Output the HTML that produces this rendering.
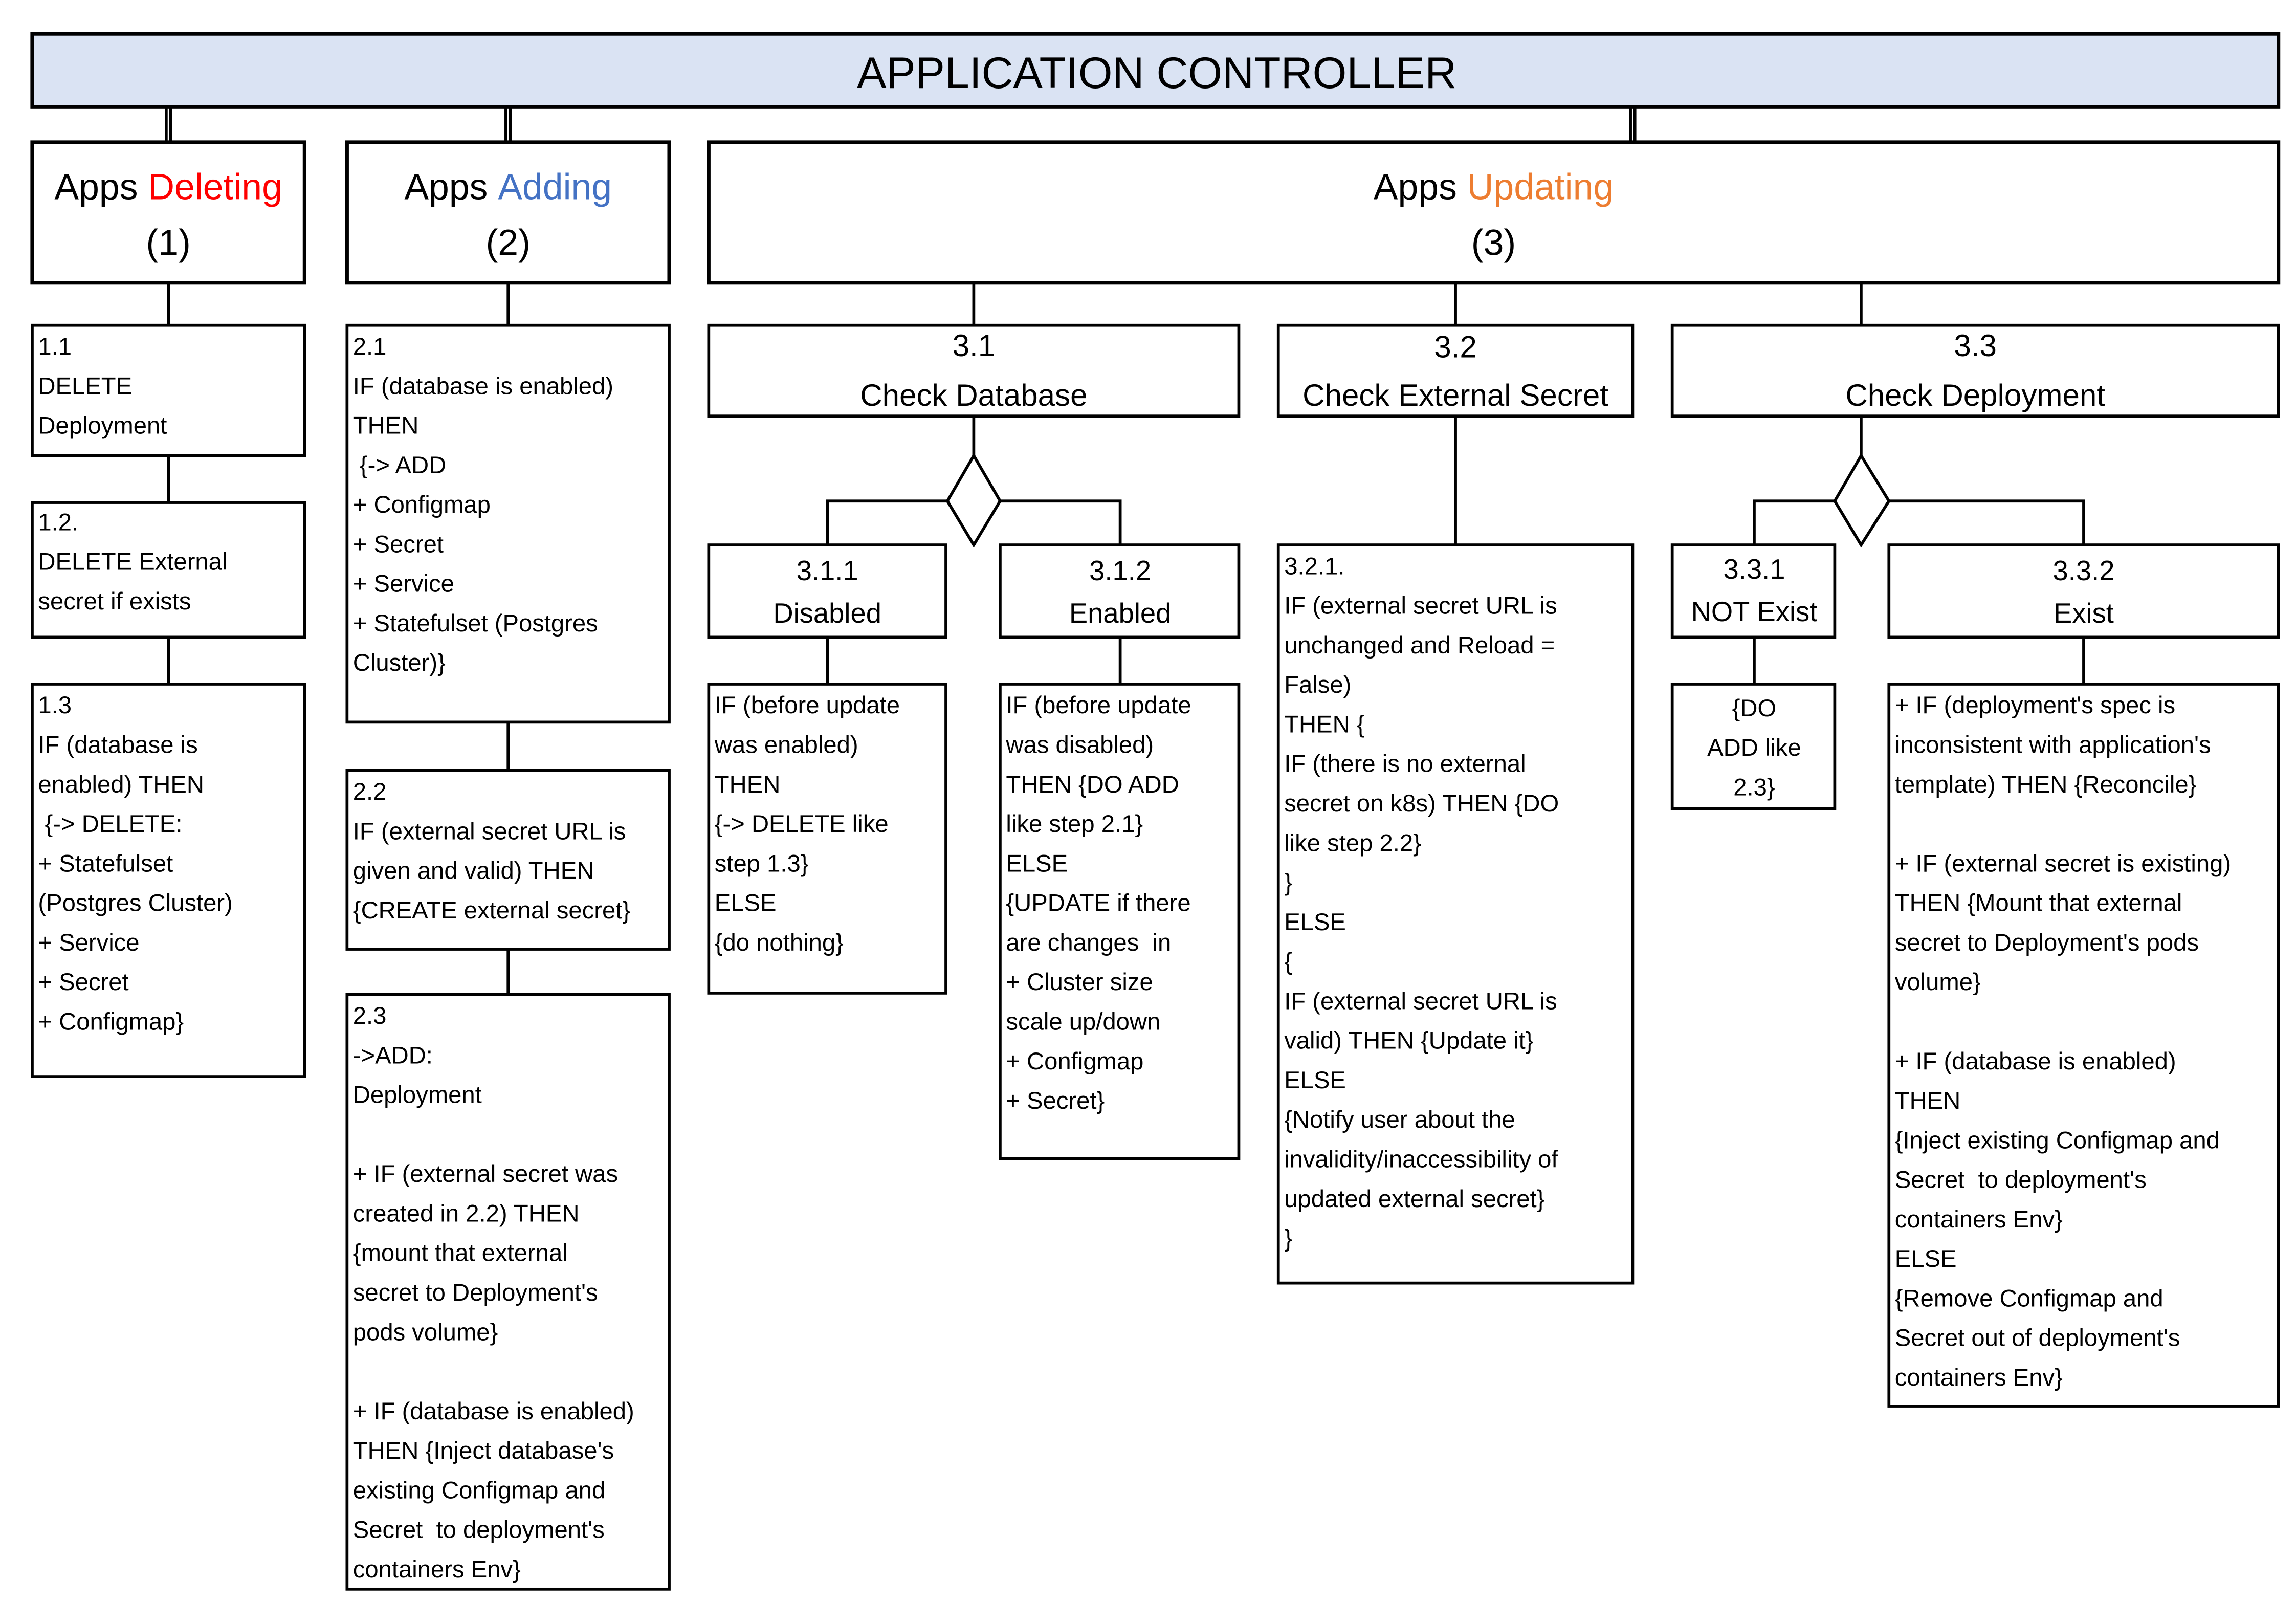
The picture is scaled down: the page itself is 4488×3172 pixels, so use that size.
<!DOCTYPE html>
<html><head><meta charset="utf-8"><style>
html,body{margin:0;padding:0;background:#fff;}
svg{display:block;}
text{font-family:"Liberation Sans",sans-serif;fill:#000;white-space:pre;}
.b{font-size:16.5px;}
</style></head><body>
<svg width="4488" height="3172" viewBox="0 0 1568 1108" xmlns="http://www.w3.org/2000/svg">
<g fill="none" stroke="#000" stroke-width="2">
<rect x="22" y="23" width="1534" height="50" fill="#dae3f3" stroke-width="2.5"/>
<line x1="113.5" y1="73" x2="113.5" y2="97"/><line x1="116.5" y1="73" x2="116.5" y2="97"/>
<line x1="345.5" y1="73" x2="345.5" y2="97"/><line x1="348.5" y1="73" x2="348.5" y2="97"/>
<line x1="1113.5" y1="73" x2="1113.5" y2="97"/><line x1="1116.5" y1="73" x2="1116.5" y2="97"/>
<rect x="22" y="97" width="186" height="96" stroke-width="2.5"/>
<rect x="237" y="97" width="220" height="96" stroke-width="2.5"/>
<rect x="484" y="97" width="1072" height="96" stroke-width="2.5"/>
<line x1="115" y1="193" x2="115" y2="222"/>
<rect x="22" y="222" width="186" height="89"/>
<line x1="115" y1="311" x2="115" y2="343"/>
<rect x="22" y="343" width="186" height="92"/>
<line x1="115" y1="435" x2="115" y2="467"/>
<rect x="22" y="467" width="186" height="268"/>
<line x1="347" y1="193" x2="347" y2="222"/>
<rect x="237" y="222" width="220" height="271"/>
<line x1="347" y1="493" x2="347" y2="526"/>
<rect x="237" y="526" width="220" height="122"/>
<line x1="347" y1="648" x2="347" y2="679"/>
<rect x="237" y="679" width="220" height="406"/>
<line x1="665" y1="193" x2="665" y2="222"/>
<line x1="994" y1="193" x2="994" y2="222"/>
<line x1="1271" y1="193" x2="1271" y2="222"/>
<rect x="484" y="222" width="362" height="62"/>
<rect x="873" y="222" width="242" height="62"/>
<rect x="1142" y="222" width="414" height="62"/>
<line x1="665" y1="284" x2="665" y2="311"/>
<polygon points="665,311 683,342 665,372 647,342"/>
<polyline points="647,342 565,342 565,372"/>
<polyline points="683,342 765,342 765,372"/>
<rect x="484" y="372" width="162" height="63"/>
<rect x="683" y="372" width="163" height="63"/>
<line x1="565" y1="435" x2="565" y2="467"/>
<line x1="765" y1="435" x2="765" y2="467"/>
<rect x="484" y="467" width="162" height="211"/>
<rect x="683" y="467" width="163" height="324"/>
<line x1="994" y1="284" x2="994" y2="372"/>
<rect x="873" y="372" width="242" height="504"/>
<line x1="1271" y1="284" x2="1271" y2="311"/>
<polygon points="1271,311 1290,342 1271,372 1253,342"/>
<polyline points="1253,342 1198,342 1198,372"/>
<polyline points="1290,342 1423,342 1423,372"/>
<rect x="1142" y="372" width="111" height="63"/>
<rect x="1290" y="372" width="266" height="63"/>
<line x1="1198" y1="435" x2="1198" y2="467"/>
<line x1="1423" y1="435" x2="1423" y2="467"/>
<rect x="1142" y="467" width="111" height="85"/>
<rect x="1290" y="467" width="266" height="493"/>
</g>

<text x="790" y="60" font-size="30" text-anchor="middle">APPLICATION CONTROLLER</text>
<text x="115" y="136" font-size="25" text-anchor="middle">Apps <tspan style="fill:#ff0000">Deleting</tspan></text>
<text x="115" y="174" font-size="25" text-anchor="middle">(1)</text>
<text x="347" y="136" font-size="25" text-anchor="middle">Apps <tspan style="fill:#4472c4">Adding</tspan></text>
<text x="347" y="174" font-size="25" text-anchor="middle">(2)</text>
<text x="1020" y="136" font-size="25" text-anchor="middle">Apps <tspan style="fill:#ed7d31">Updating</tspan></text>
<text x="1020" y="174" font-size="25" text-anchor="middle">(3)</text>

<g font-size="21" text-anchor="middle">
<text x="665" y="243">3.1</text><text x="665" y="277">Check Database</text>
<text x="994" y="244">3.2</text><text x="994" y="277">Check External Secret</text>
<text x="1349" y="243">3.3</text><text x="1349" y="277">Check Deployment</text>
</g>
<g font-size="19" text-anchor="middle">
<text x="565" y="396">3.1.1</text><text x="565" y="425">Disabled</text>
<text x="765" y="396">3.1.2</text><text x="765" y="425">Enabled</text>
<text x="1198" y="395">3.3.1</text><text x="1198" y="424">NOT Exist</text>
<text x="1423" y="396">3.3.2</text><text x="1423" y="425">Exist</text>
</g>

<g class="b">
<text x="26" y="242">1.1</text><text x="26" y="269">DELETE</text><text x="26" y="296">Deployment</text>
<text x="26" y="362">1.2.</text><text x="26" y="389">DELETE External</text><text x="26" y="416">secret if exists</text>
<text x="26" y="487">1.3</text><text x="26" y="514">IF (database is</text><text x="26" y="541">enabled) THEN</text><text x="26" y="568"> {-&gt; DELETE:</text><text x="26" y="595">+ Statefulset</text><text x="26" y="622">(Postgres Cluster)</text><text x="26" y="649">+ Service</text><text x="26" y="676">+ Secret</text><text x="26" y="703">+ Configmap}</text>

<text x="241" y="242">2.1</text><text x="241" y="269">IF (database is enabled)</text><text x="241" y="296">THEN</text><text x="241" y="323"> {-&gt; ADD</text><text x="241" y="350">+ Configmap</text><text x="241" y="377">+ Secret</text><text x="241" y="404">+ Service</text><text x="241" y="431">+ Statefulset (Postgres</text><text x="241" y="458">Cluster)}</text>
<text x="241" y="546">2.2</text><text x="241" y="573">IF (external secret URL is</text><text x="241" y="600">given and valid) THEN</text><text x="241" y="627">{CREATE external secret}</text>
<text x="241" y="699">2.3</text><text x="241" y="726">-&gt;ADD:</text><text x="241" y="753">Deployment</text><text x="241" y="807">+ IF (external secret was</text><text x="241" y="834">created in 2.2) THEN</text><text x="241" y="861">{mount that external</text><text x="241" y="888">secret to Deployment's</text><text x="241" y="915">pods volume}</text><text x="241" y="969">+ IF (database is enabled)</text><text x="241" y="996">THEN {Inject database's</text><text x="241" y="1023">existing Configmap and</text><text x="241" y="1050">Secret  to deployment's</text><text x="241" y="1077">containers Env}</text>

<text x="488" y="487">IF (before update</text><text x="488" y="514">was enabled)</text><text x="488" y="541">THEN</text><text x="488" y="568">{-&gt; DELETE like</text><text x="488" y="595">step 1.3}</text><text x="488" y="622">ELSE</text><text x="488" y="649">{do nothing}</text>

<text x="687" y="487">IF (before update</text><text x="687" y="514">was disabled)</text><text x="687" y="541">THEN {DO ADD</text><text x="687" y="568">like step 2.1}</text><text x="687" y="595">ELSE</text><text x="687" y="622">{UPDATE if there</text><text x="687" y="649">are changes  in</text><text x="687" y="676">+ Cluster size</text><text x="687" y="703">scale up/down</text><text x="687" y="730">+ Configmap</text><text x="687" y="757">+ Secret}</text>

<text x="877" y="392">3.2.1.</text><text x="877" y="419">IF (external secret URL is</text><text x="877" y="446">unchanged and Reload =</text><text x="877" y="473">False)</text><text x="877" y="500">THEN {</text><text x="877" y="527">IF (there is no external</text><text x="877" y="554">secret on k8s) THEN {DO</text><text x="877" y="581">like step 2.2}</text><text x="877" y="608">}</text><text x="877" y="635">ELSE</text><text x="877" y="662">{</text><text x="877" y="689">IF (external secret URL is</text><text x="877" y="716">valid) THEN {Update it}</text><text x="877" y="743">ELSE</text><text x="877" y="770">{Notify user about the</text><text x="877" y="797">invalidity/inaccessibility of</text><text x="877" y="824">updated external secret}</text><text x="877" y="851">}</text>

<text x="1294" y="487">+ IF (deployment's spec is</text><text x="1294" y="514">inconsistent with application's</text><text x="1294" y="541">template) THEN {Reconcile}</text><text x="1294" y="595">+ IF (external secret is existing)</text><text x="1294" y="622">THEN {Mount that external</text><text x="1294" y="649">secret to Deployment's pods</text><text x="1294" y="676">volume}</text><text x="1294" y="730">+ IF (database is enabled)</text><text x="1294" y="757">THEN</text><text x="1294" y="784">{Inject existing Configmap and</text><text x="1294" y="811">Secret  to deployment's</text><text x="1294" y="838">containers Env}</text><text x="1294" y="865">ELSE</text><text x="1294" y="892">{Remove Configmap and</text><text x="1294" y="919">Secret out of deployment's</text><text x="1294" y="946">containers Env}</text>
</g>
<g class="b" text-anchor="middle">
<text x="1198" y="489">{DO</text><text x="1198" y="516">ADD like</text><text x="1198" y="543">2.3}</text>
</g>
</svg>
</body></html>
